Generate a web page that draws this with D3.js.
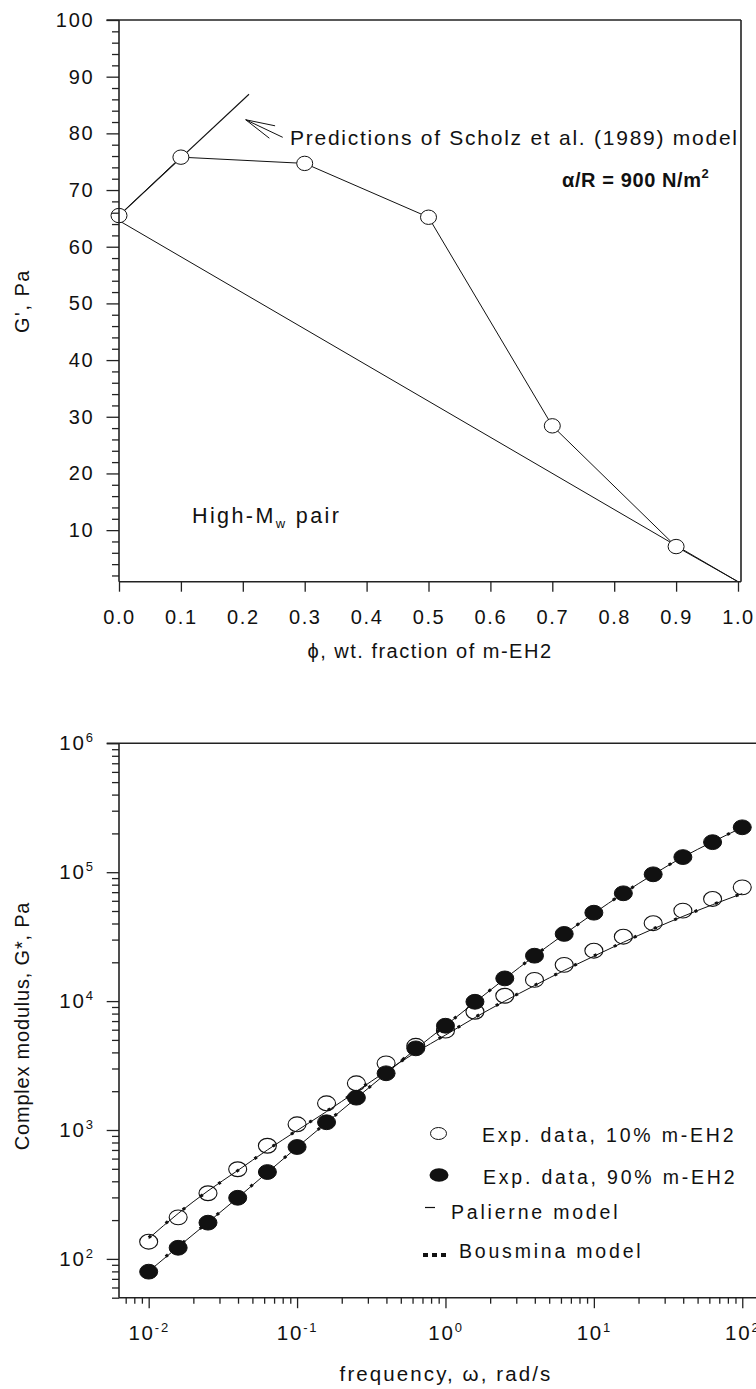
<!DOCTYPE html>
<html>
<head>
<meta charset="utf-8">
<script src="https://cdn.jsdelivr.net/npm/d3@7"></script>
<style>
  html, body { margin: 0; padding: 0; background: #fff; }
  svg { display: block; }
  text { font-family: "Liberation Sans", Arial, sans-serif; fill: #111; }
</style>
</head>
<body>
<svg width="756" height="1389"></svg>
<script>
// ---- top panel: G' against blend composition ----
const phi = [0.0, 0.1, 0.3, 0.5, 0.7, 0.9];
const gPrime = [65.5, 75.8, 74.7, 65.2, 28.4, 7.1];
// measured line runs on to the pure m-EH2 end (no marker there)
const blendLinePhi = [0.0, 0.1, 0.3, 0.5, 0.7, 0.9, 1.0];
const blendLineG = [65.5, 75.8, 74.7, 65.2, 28.4, 7.1, 0.9];
const additivePhi = [0.0, 1.0];
const additiveG = [64.6, 0.9];
const scholzPhi = [0.0, 0.21];
const scholzG = [65.5, 86.9];
const phiTicks = [0, 0.1, 0.2, 0.3, 0.4, 0.5, 0.6, 0.7, 0.8, 0.9, 1.0];
const gTicks = [10, 20, 30, 40, 50, 60, 70, 80, 90, 100];

// ---- bottom panel: complex modulus against frequency ----
const freq = [0.01, 0.0158, 0.0251, 0.0398, 0.0631, 0.1, 0.158, 0.251, 0.398, 0.631,
              1, 1.58, 2.51, 3.98, 6.31, 10, 15.8, 25.1, 39.8, 63.1, 100];
const gStar10 = [136, 210, 323, 496, 755, 1107, 1611, 2303, 3290, 4500,
                 5900, 8270, 11000, 14600, 19100, 24600, 31600, 40200, 50300, 62000, 76300];
const gStar90 = [79.6, 122, 191, 298, 472, 738, 1148, 1781, 2754, 4300,
                 6440, 9880, 15000, 22500, 33200, 48500, 68600, 96300, 131000, 171000, 223000];
const palierne10 = [144, 225, 337, 485, 700, 991, 1390, 1990, 2850, 4000,
                    5450, 7450, 10000, 13200, 17300, 22300, 28600, 36300, 45400, 56000, 68300];
const palierne90 = [80, 124, 192, 298, 468, 735, 1140, 1770, 2740, 4250,
                    6450, 9800, 14900, 22400, 33000, 48000, 68500, 96000, 131000, 172000, 222000];
const bousmina10 = [146, 226, 336, 484, 702, 995, 1400, 2000, 2870, 4030,
                    5480, 7480, 10050, 13250, 17350, 22400, 28700, 36400, 45500, 56100, 68500];
const bousmina90 = [81, 125, 193, 300, 470, 738, 1145, 1775, 2750, 4260,
                    6470, 9820, 14950, 22450, 33100, 48100, 68600, 96200, 131500, 172500, 223000];
const freqTicks = [0.01, 0.1, 1, 10, 100];
const freqExps = ["-2", "-1", "0", "1", "2"];
const modTicks = [1e2, 1e3, 1e4, 1e5, 1e6];
const modExps = ["2", "3", "4", "5", "6"];
const legendLabels = ["Exp. data, 10% m-EH2", "Exp. data, 90% m-EH2", "Palierne model", "Bousmina model"];

const svg = d3.select("svg");
svg.append("rect").attr("width", 756).attr("height", 1389).attr("fill", "#fff");

const INK = "#111";
const FRAME = "#222";

function frameLine(g, xa, ya, xb, yb) {
  g.append("line").attr("x1", xa).attr("y1", ya).attr("x2", xb).attr("y2", yb)
    .attr("stroke", FRAME).attr("stroke-width", 1.6);
}

function styleAxis(g, size, spacing) {
  g.select(".domain").remove();
  g.attr("color", FRAME);
  g.selectAll(".tick line").attr("stroke-width", 1.3);
  g.selectAll(".tick text")
    .attr("font-size", size)
    .attr("letter-spacing", spacing)
    .attr("fill", INK)
    .attr("font-family", '"Liberation Sans", Arial, sans-serif');
}

drawTopPanel();
drawBottomPanel();

function drawTopPanel() {
  const x = d3.scaleLinear().domain([0, 1]).range([119, 738]);
  const y = d3.scaleLinear().domain([0.9, 100]).range([581.7, 20]);
  const g = svg.append("g");

  const line = d3.line().x(d => x(d[0])).y(d => y(d[1]));

  // additive rule and Scholz prediction
  g.append("path").datum(d3.zip(additivePhi, additiveG))
    .attr("d", line).attr("fill", "none").attr("stroke", INK).attr("stroke-width", 1);
  g.append("path").datum(d3.zip(scholzPhi, scholzG))
    .attr("d", line).attr("fill", "none").attr("stroke", INK).attr("stroke-width", 1.1);
  g.append("path").datum(d3.zip(blendLinePhi, blendLineG))
    .attr("d", line).attr("fill", "none").attr("stroke", INK).attr("stroke-width", 1);

  g.selectAll("ellipse.pt")
    .data(d3.zip(phi, gPrime))
    .join("ellipse")
    .attr("class", "pt")
    .attr("cx", d => x(d[0]))
    .attr("cy", d => y(d[1]))
    .attr("rx", 8)
    .attr("ry", 7.2)
    .attr("fill", "#fff")
    .attr("stroke", INK)
    .attr("stroke-width", 1);

  // frame
  frameLine(g, 106.5, 20, 741, 20);
  frameLine(g, 119, 20, 119, 581.7);
  frameLine(g, 119, 581.7, 741, 581.7);
  frameLine(g, 741, 20, 741, 581.7);

  const xAxis = g.append("g").attr("transform", "translate(0,581.7)")
    .call(d3.axisBottom(x).tickValues(phiTicks).tickFormat(d3.format(".1f"))
      .tickSize(10).tickPadding(18));
  styleAxis(xAxis, 20, "1.6px");

  const yAxis = g.append("g").attr("transform", "translate(119,0)")
    .call(d3.axisLeft(y).tickValues(gTicks).tickSize(12.5).tickPadding(12));
  styleAxis(yAxis, 20, "1.8px");

  const minor = d3.range(2, 100, 2).filter(v => v % 10 !== 0);
  const yMinor = g.append("g").attr("transform", "translate(119,0)")
    .call(d3.axisLeft(y).tickValues(minor).tickSize(7).tickFormat(""));
  styleAxis(yMinor, 10, "0");

  // axis titles
  g.append("text")
    .attr("x", 430).attr("y", 658)
    .attr("text-anchor", "middle")
    .attr("font-size", 20).attr("letter-spacing", "1.5px")
    .text("\u03D5, wt. fraction of m-EH2");
  g.append("text")
    .attr("transform", "translate(29,301) rotate(-90)")
    .attr("text-anchor", "middle")
    .attr("font-size", 20).attr("letter-spacing", "1.5px")
    .text("G', Pa");

  // arrow for the model prediction
  const tip = [x(0.2047), y(82.4)];
  const tail = [x(0.2645), y(79.3)];
  const ang = Math.atan2(tail[1] - tip[1], tail[0] - tip[0]);
  g.append("line").attr("x1", tip[0]).attr("y1", tip[1]).attr("x2", tail[0]).attr("y2", tail[1])
    .attr("stroke", INK).attr("stroke-width", 1);
  [-0.24, 0.22].forEach(da => {
    g.append("line")
      .attr("x1", tip[0]).attr("y1", tip[1])
      .attr("x2", tip[0] + 30 * Math.cos(ang + da))
      .attr("y2", tip[1] + 30 * Math.sin(ang + da))
      .attr("stroke", INK).attr("stroke-width", 1);
  });

  g.append("text")
    .attr("x", 290).attr("y", 145)
    .attr("font-size", 21).attr("letter-spacing", "1.75px")
    .text("Predictions of Scholz et al. (1989) model");

  const ar = g.append("text")
    .attr("x", 562).attr("y", 187)
    .attr("font-size", 20).attr("font-weight", "bold").attr("letter-spacing", "0.6px");
  ar.append("tspan").text("\u03B1/R = 900 N/m");
  ar.append("tspan").attr("dy", -9).attr("font-size", 13).text("2");

  const hm = g.append("text")
    .attr("x", 192).attr("y", 523)
    .attr("font-size", 21.5).attr("letter-spacing", "2.4px");
  hm.append("tspan").text("High-M");
  hm.append("tspan").attr("dy", 5).attr("font-size", 13).text("w");
  hm.append("tspan").attr("dy", -5).text(" pair");
}

function drawBottomPanel() {
  const x = d3.scaleLog().domain([Math.pow(10, -2.2), Math.pow(10, 2.1)]).range([119, 757.1]);
  const y = d3.scaleLog().domain([50, 1e6]).range([1297.7, 743.3]);
  const g = svg.append("g");

  const line = d3.line()
    .x(d => x(d[0]))
    .y(d => y(d[1]))
    .curve(d3.curveMonotoneX);

  // open markers first so the model curves show through them
  g.selectAll("ellipse.open")
    .data(d3.zip(freq, gStar10))
    .join("ellipse")
    .attr("class", "open")
    .attr("cx", d => x(d[0]))
    .attr("cy", d => y(d[1]))
    .attr("rx", 9).attr("ry", 7.4)
    .attr("fill", "#fff").attr("stroke", INK).attr("stroke-width", 1.1);

  [palierne10, palierne90].forEach(vals => {
    g.append("path").datum(d3.zip(freq, vals))
      .attr("d", line).attr("fill", "none").attr("stroke", INK).attr("stroke-width", 1);
  });
  [bousmina10, bousmina90].forEach(vals => {
    g.append("path").datum(d3.zip(freq, vals))
      .attr("d", line).attr("fill", "none").attr("stroke", INK)
      .attr("stroke-width", 3).attr("stroke-dasharray", "3 19");
  });

  g.selectAll("ellipse.filled")
    .data(d3.zip(freq, gStar90))
    .join("ellipse")
    .attr("class", "filled")
    .attr("cx", d => x(d[0]))
    .attr("cy", d => y(d[1]))
    .attr("rx", 9).attr("ry", 7.4)
    .attr("fill", INK).attr("stroke", INK).attr("stroke-width", 1);

  // frame, the right edge falls outside the picture
  frameLine(g, 106.7, 743.3, 756, 743.3);
  frameLine(g, 119, 743.3, 119, 1297.7);
  frameLine(g, 119, 1297.7, 756, 1297.7);

  function powLabels(axisG, exps) {
    axisG.selectAll(".tick text").each(function(d, i) {
      const t = d3.select(this).text("");
      t.append("tspan").text("10");
      t.append("tspan").attr("dy", -8).attr("font-size", 13).text(exps[i]);
    });
  }

  const xAxis = g.append("g").attr("transform", "translate(0,1297.7)")
    .call(d3.axisBottom(x).tickValues(freqTicks).tickSize(10.5).tickPadding(17));
  styleAxis(xAxis, 20.5, "1.8px");
  powLabels(xAxis, freqExps);

  const xMinorVals = [];
  [0.001, 0.01, 0.1, 1, 10].forEach(dec => {
    for (let k = 2; k <= 9; k++) {
      const v = k * dec;
      if (v >= x.domain()[0] && v <= x.domain()[1]) xMinorVals.push(v);
    }
  });
  const xMinor = g.append("g").attr("transform", "translate(0,1297.7)")
    .call(d3.axisBottom(x).tickValues(xMinorVals).tickSize(6).tickFormat(""));
  styleAxis(xMinor, 10, "0");

  const yAxis = g.append("g").attr("transform", "translate(119,0)")
    .call(d3.axisLeft(y).tickValues(modTicks).tickSize(12.3).tickPadding(12));
  styleAxis(yAxis, 20.5, "1.8px");
  powLabels(yAxis, modExps);

  const yMinorVals = [];
  [10, 100, 1000, 1e4, 1e5].forEach(dec => {
    for (let k = 2; k <= 9; k++) {
      const v = k * dec;
      if (v >= y.domain()[0] && v <= y.domain()[1]) yMinorVals.push(v);
    }
  });
  const yMinor = g.append("g").attr("transform", "translate(119,0)")
    .call(d3.axisLeft(y).tickValues(yMinorVals).tickSize(7).tickFormat(""));
  styleAxis(yMinor, 10, "0");

  // axis titles
  g.append("text")
    .attr("x", 446).attr("y", 1381)
    .attr("text-anchor", "middle")
    .attr("font-size", 20.5).attr("letter-spacing", "2.1px")
    .text("frequency, \u03C9, rad/s");
  g.append("text")
    .attr("transform", "translate(29,1026) rotate(-90)")
    .attr("text-anchor", "middle")
    .attr("font-size", 20).attr("letter-spacing", "0.8px")
    .text("Complex modulus, G*, Pa");

  // legend
  const lg = g.append("g");
  lg.append("ellipse").attr("cx", 438.5).attr("cy", 1133.5).attr("rx", 8).attr("ry", 6)
    .attr("fill", "#fff").attr("stroke", INK).attr("stroke-width", 1);
  lg.append("ellipse").attr("cx", 439).attr("cy", 1175).attr("rx", 9.5).attr("ry", 6.8)
    .attr("fill", INK);
  lg.append("line").attr("x1", 425).attr("x2", 435).attr("y1", 1207.5).attr("y2", 1207.5)
    .attr("stroke", INK).attr("stroke-width", 1.2);
  lg.append("line").attr("x1", 423).attr("x2", 447).attr("y1", 1255).attr("y2", 1255)
    .attr("stroke", INK).attr("stroke-width", 4).attr("stroke-dasharray", "5 4");

  const legendPos = [[482, 1142], [483, 1183.5], [451, 1219], [459, 1258]];
  lg.selectAll("text")
    .data(legendLabels)
    .join("text")
    .attr("x", (d, i) => legendPos[i][0])
    .attr("y", (d, i) => legendPos[i][1])
    .attr("font-size", 19.5)
    .attr("letter-spacing", "2.8px")
    .text(d => d);
}
</script>
</body>
</html>
